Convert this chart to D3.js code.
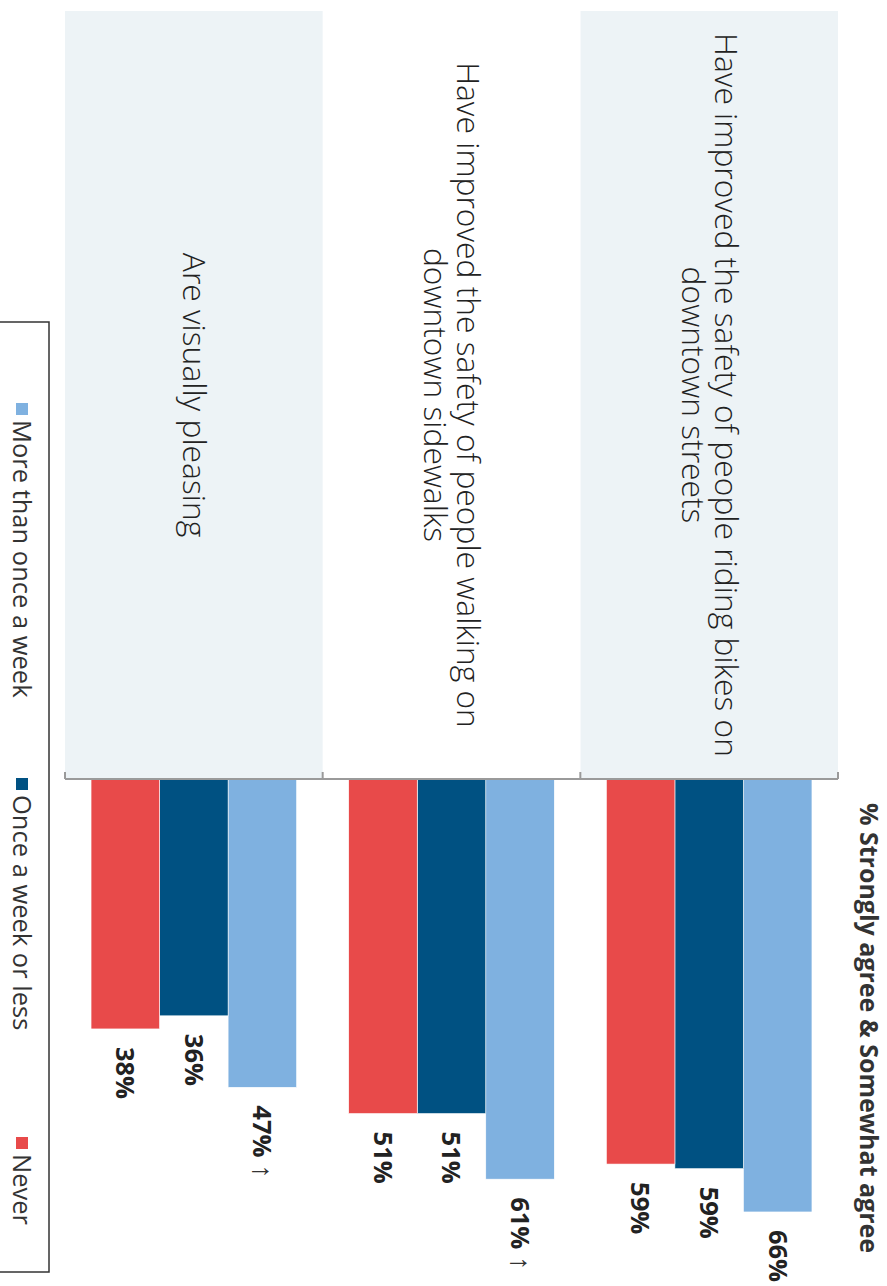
<!DOCTYPE html>
<html>
<head>
<meta charset="utf-8">
<script src="https://cdn.jsdelivr.net/npm/d3@7"></script>
<style>
  html, body { margin: 0; padding: 0; background: #fff; }
  svg { display: block; }
</style>
</head>
<body>
<svg id="chart" width="887" height="1286"></svg>
<script>
// ---- data ----
const categories = [
  "Have improved the safety of people riding bikes on downtown streets",
  "Have improved the safety of people walking on downtown sidewalks",
  "Are visually pleasing"
];
const series = ["More than once a week", "Once a week or less", "Never"];
const valuesMoreThanOnce = [66.0, 61.0, 47.0];
const valuesOnceOrLess = [59.4, 51.0, 36.1];
const valuesNever = [58.7, 51.0, 38.1];
const labelsMoreThanOnce = ["66%", "61%", "47%"];
const labelsOnceOrLess = ["59%", "51%", "36%"];
const labelsNever = ["59%", "51%", "38%"];
const significantMoreThanOnce = [false, true, true];
const titleText = "% Strongly agree & Somewhat agree";

const colors = ["#7fb1e0", "#005182", "#e84a4a"];

const seriesValues = [valuesMoreThanOnce, valuesOnceOrLess, valuesNever];
const seriesLabels = [labelsMoreThanOnce, labelsOnceOrLess, labelsNever];
const seriesSig = [significantMoreThanOnce, [false,false,false], [false,false,false]];

const rows = [];
categories.forEach((c, ci) => {
  series.forEach((s, si) => {
    rows.push({cat: c, ser: s, si, value: seriesValues[si][ci], label: seriesLabels[si][ci], sig: seriesSig[si][ci]});
  });
});

// ---- layout (drawn unrotated, then rotated 90deg clockwise) ----
const W = 887, H = 1286;
const svg = d3.select("#chart");
const g = svg.append("g").attr("transform", `translate(${W},0) rotate(90)`);

const axisX = 779;
const x = d3.scaleLinear().domain([0, 70]).range([axisX, axisX + 459.2]);
const y0 = d3.scaleBand().domain(categories).range([49, 822]).padding(0);
const y1 = d3.scaleBand().domain(series).range([0, y0.bandwidth()]).paddingInner(0).paddingOuter(0.38);
const color = d3.scaleOrdinal().domain(series).range(colors);

const labelFont = "'Open Sans', 'Noto Sans', sans-serif";

// panel backgrounds
g.append("g").selectAll("rect")
  .data(categories)
  .join("rect")
  .attr("x", 11)
  .attr("y", d => y0(d))
  .attr("width", axisX - 11)
  .attr("height", y0.bandwidth())
  .attr("fill", (d, i) => i % 2 === 0 ? "#edf3f6" : "#ffffff");

// category labels
const catG = g.append("g");
categories.forEach((c) => {
  const t = catG.append("text")
    .attr("x", (11 + axisX) / 2)
    .attr("text-anchor", "middle")
    .attr("font-family", labelFont)
    .attr("font-weight", 300)
    .attr("font-size", 31.8)
    .attr("fill", "#222");
  const words = c.split(" ");
  const maxW = 765;
  let lines = [], cur = [];
  const probe = t.append("tspan");
  words.forEach(w => {
    const trial = cur.concat([w]).join(" ");
    probe.text(trial);
    if (probe.node().getComputedTextLength() > maxW && cur.length) {
      lines.push(cur.join(" "));
      cur = [w];
    } else cur.push(w);
  });
  lines.push(cur.join(" "));
  probe.remove();
  const lh = 33;
  const cy = y0(c) + y0.bandwidth() / 2;
  lines.forEach((ln, i) => {
    t.append("tspan")
      .attr("x", (11 + axisX) / 2)
      .attr("y", cy + (i - (lines.length - 1) / 2) * lh)
      .attr("dy", "0.35em")
      .text(ln);
  });
});

// bars
g.append("g").selectAll("rect")
  .data(rows)
  .join("rect")
  .attr("x", x(0))
  .attr("y", d => y0(d.cat) + y1(d.ser))
  .attr("width", d => x(d.value) - x(0))
  .attr("height", y1.bandwidth())
  .attr("fill", d => color(d.ser))
  .attr("stroke", "#ffffff")
  .attr("stroke-width", 0.6);

// value labels
const vl = g.append("g").selectAll("text")
  .data(rows)
  .join("text")
  .attr("x", d => x(d.value) + 18)
  .attr("y", d => y0(d.cat) + y1(d.ser) + y1.bandwidth() / 2)
  .attr("dy", "0.36em")
  .attr("font-family", labelFont)
  .attr("font-size", 25.5)
  .attr("fill", "#222");
vl.append("tspan").attr("font-weight", 700).text(d => d.label);
vl.filter(d => d.sig).append("tspan").attr("font-weight", 400).attr("font-size", 28).attr("fill", "#333").text(" \u2191");

// category axis (band boundaries)
const axisG = g.append("g").attr("stroke", "#9a9a9a").attr("stroke-width", 2).attr("fill", "none");
const r = y0.range();
axisG.append("line").attr("x1", axisX).attr("x2", axisX).attr("y1", r[0]).attr("y2", r[1]);
const bounds = categories.map(c => y0(c)).concat([r[1]]);
axisG.selectAll("line.tick").data(bounds).join("line").attr("class", "tick")
  .attr("x1", axisX - 7).attr("x2", axisX).attr("y1", d => d).attr("y2", d => d);

// title
g.append("text")
  .attr("x", 1028)
  .attr("y", 18)
  .attr("dy", "0.35em")
  .attr("text-anchor", "middle")
  .attr("font-family", labelFont)
  .attr("font-weight", 700)
  .attr("font-size", 25)
  .attr("fill", "#333")
  .text(titleText);

// legend
const legG = g.append("g");
legG.append("rect")
  .attr("x", 322).attr("y", 838)
  .attr("width", 950).attr("height", 80)
  .attr("fill", "none").attr("stroke", "#333").attr("stroke-width", 1.5);
const legX = [403, 778, 1137];
const legCY = 865;
series.forEach((s, i) => {
  legG.append("rect").attr("x", legX[i]).attr("y", legCY - 6).attr("width", 12).attr("height", 12).attr("fill", color(s));
  legG.append("text").attr("x", legX[i] + 17).attr("y", legCY).attr("dy", "0.35em")
    .attr("font-family", labelFont).attr("font-size", 25.5).attr("fill", "#333").text(s);
});
</script>
</body>
</html>
